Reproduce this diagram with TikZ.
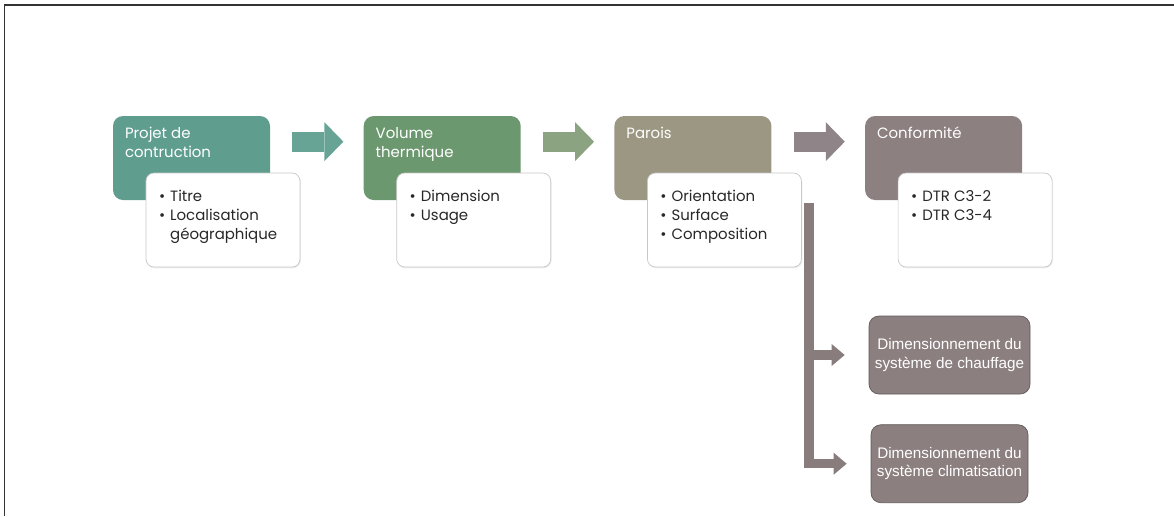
\documentclass[tikz,border=0pt]{standalone}
\usepackage{fontspec}
\setmainfont{Poppins}
\newfontfamily\arialfont{Liberation Sans}
\usepackage{tikz}
\usetikzlibrary{positioning,arrows.meta,shadows}

\definecolor{tealbox}{RGB}{95,158,143}
\definecolor{greenbox}{RGB}{107,152,110}
\definecolor{olivebox}{RGB}{155,151,130}
\definecolor{mauvebox}{RGB}{140,128,128}
\definecolor{arrA}{RGB}{104,164,150}
\definecolor{arrB}{RGB}{139,163,128}
\definecolor{arrC}{RGB}{143,133,136}
\definecolor{cardline}{RGB}{200,200,200}
\definecolor{cardink}{RGB}{40,40,40}
\definecolor{resfill}{RGB}{140,127,128}
\definecolor{resline}{RGB}{95,90,90}
\definecolor{barfill}{RGB}{136,124,125}

\newcommand{\bul}{\makebox[0.75em][l]{\textbullet}}

\begin{document}
\begin{tikzpicture}[
  node distance=1.86cm,
  stage/.style={fill=#1, rounded corners=0.2cm, minimum width=3.14cm, minimum height=1.68cm, inner sep=0pt},
  stagetxt/.style={anchor=north west, inner sep=0pt, align=left, text=white, font=\fontsize{8.5}{10.8}\selectfont},
  detail/.style={draw=cardline, fill=white, rounded corners=0.16cm, minimum width=3.08cm, minimum height=1.88cm, anchor=north west, drop shadow={opacity=0.15, shadow xshift=0.5pt, shadow yshift=-0.8pt}},
  detailtxt/.style={anchor=north west, inner sep=0pt, align=left, text=cardink, font=\fontsize{8.5}{10.8}\selectfont},
  flow/.style={draw=#1, line width=0.4cm, -{Triangle[length=0.38cm, width=0.78cm, line width=0pt]}, shorten <=0.44cm, shorten >=0.4cm},
  result/.style={draw=resline, fill=resfill, rounded corners=0.2cm, minimum width=3.1cm, minimum height=1.56cm, align=center, text=white, font=\arialfont\fontsize{8.7}{10.5}\selectfont},
  branch/.style={draw=barfill, line width=0.19cm, -{Triangle[length=0.26cm, width=0.44cm, line width=0pt]}, shorten >=0.48cm}
]
\useasboundingbox (0,0) rectangle (23.48,-10.32);
\draw[line width=1.1pt, draw=black!80] (0.09,-10.32) |- (23.48,-0.1);

% stages
\node[stage=tealbox] (h1) at (3.83,-3.16) {};
\node[stage=greenbox, right=of h1] (h2) {};
\node[stage=olivebox, right=of h2] (h3) {};
\node[stage=mauvebox, right=of h3] (h4) {};

\node[stagetxt] (h1t) at ([xshift=0.24cm, yshift=-0.22cm]h1.north west) {Projet de\\contruction};
\node[stagetxt] (h2t) at ([xshift=0.24cm, yshift=-0.22cm]h2.north west) {Volume\\thermique};
\node[stagetxt] (h3t) at ([xshift=0.24cm, yshift=-0.22cm]h3.north west) {Parois};
\node[stagetxt] (h4t) at ([xshift=0.24cm, yshift=-0.22cm]h4.north west) {Conformité};

% details
\node[detail] (c1) at ([xshift=0.66cm, yshift=-1.14cm]h1.north west) {};
\node[detail] (c2) at ([xshift=0.66cm, yshift=-1.14cm]h2.north west) {};
\node[detail] (c3) at ([xshift=0.66cm, yshift=-1.14cm]h3.north west) {};
\node[detail] (c4) at ([xshift=0.66cm, yshift=-1.14cm]h4.north west) {};

\node[detailtxt] (c1t) at ([xshift=0.26cm, yshift=-0.34cm]c1.north west) {\bul Titre\\\bul Localisation\\\hspace*{0.75em}géographique};
\node[detailtxt] (c2t) at ([xshift=0.26cm, yshift=-0.34cm]c2.north west) {\bul Dimension\\\bul Usage};
\node[detailtxt] (c3t) at ([xshift=0.26cm, yshift=-0.34cm]c3.north west) {\bul Orientation\\\bul Surface\\\bul Composition};
\node[detailtxt] (c4t) at ([xshift=0.26cm, yshift=-0.34cm]c4.north west) {\bul DTR C3-2\\\bul DTR C3-4};

% flow arrows
\draw[flow=arrA] ([yshift=-0.52cm]h1.north east) -- ([yshift=-0.52cm]h2.north west);
\draw[flow=arrB] ([yshift=-0.52cm]h2.north east) -- ([yshift=-0.52cm]h3.north west);
\draw[flow=arrC] ([yshift=-0.52cm]h3.north east) -- ([yshift=-0.52cm]h4.north west);

% sizing results
\node[result] (heat) at (18.99,-7.10) {Dimensionnement du\\système de chauffage};
\node[result, below=0.6cm of heat] (cool) {Dimensionnement du\\système climatisation};

\coordinate (fork) at (16.18,-4.06);
\draw[branch] (fork) |- (heat);
\draw[branch] (fork) |- (cool);
\end{tikzpicture}
\end{document}
